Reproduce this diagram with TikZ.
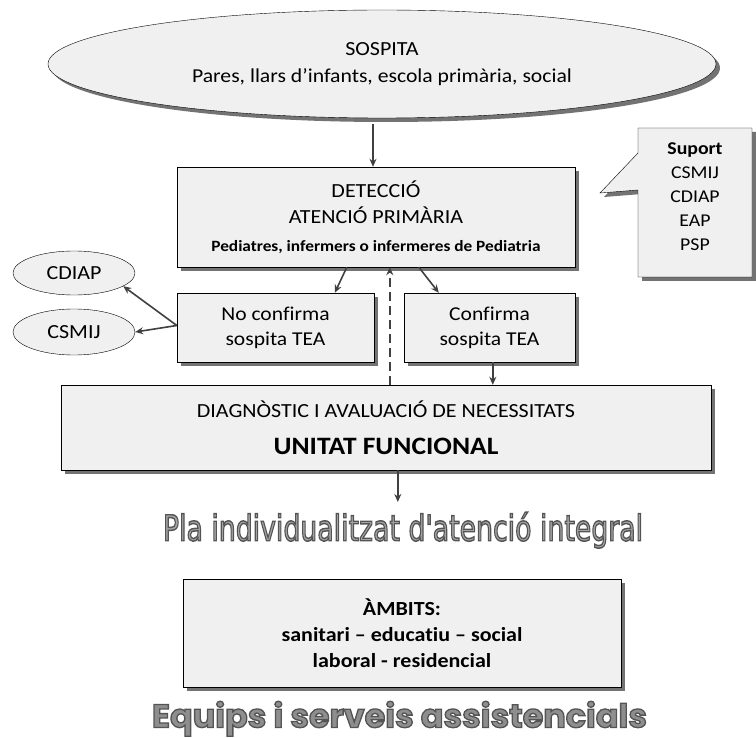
\documentclass[tikz,border=0pt]{standalone}
\usepackage{fontspec}
\usepackage{graphicx}
\usepackage{xcolor}
\setmainfont{Carlito}[FakeStretch=1.1,Ligatures=CommonOff]
\newfontfamily\plafont{DejaVu Sans}
\newfontfamily\equipsfont{Poppins}
\usetikzlibrary{shapes.geometric, shadows, arrows.meta, positioning}

\definecolor{boxgray}{HTML}{F0F0F0}
\definecolor{plagray}{HTML}{A4A4A4}
\definecolor{equipsgray}{HTML}{8E8E8E}

% word art text: gray fill with a darker outline
\newcommand{\arttext}[4]{\resizebox*{#1}{#2}{\color{#3}\special{pdf:literal direct 2 Tr 0.8 w 0.33 0.33 0.33 RG}#4\special{pdf:literal direct 0 Tr}}}

\begin{document}
\begin{tikzpicture}[
  x=1pt, y=-1pt,
  box/.style={rectangle,draw,fill=boxgray,align=center,inner sep=0pt,
    drop shadow={shadow xshift=4pt,shadow yshift=-4pt,fill=black!55,opacity=1}},
  oval/.style={ellipse,draw,fill=boxgray,align=center,inner sep=0pt},
  arrow/.style={draw=black!75,line width=1.6pt,-{Stealth[length=8pt,width=7pt]}},
  font=\fontsize{20}{26.5}\selectfont
]
\useasboundingbox (0,0) rectangle (756,738);

% Draw top oval and detection box
\node[oval,minimum width=668pt,minimum height=108pt,
  drop shadow={shadow xshift=4pt,shadow yshift=-4pt,fill=black!55,opacity=1}]
  at (382,64) (sospita) {SOSPITA\\\fontsize{19.7}{26.5}\selectfont Pares, llars d’infants, escola primària, social};
\node[box,minimum width=398pt,minimum height=100pt] at (376,217) (deteccio)
  {DETECCIÓ\\ATENCIÓ PRIMÀRIA\\[1pt]{\bfseries\fontsize{15.7}{20}\selectfont Pediatres, infermers o infermeres de Pediatria}};

% Draw support callout
\path[draw,fill=boxgray,drop shadow={shadow xshift=4pt,shadow yshift=-4pt,fill=black!55,opacity=1}]
  (638,128) -- (752,128) -- (752,277) -- (638,277) -- (638,190) -- (600,193) -- (638,153) -- cycle;
\node[align=center,font=\fontsize{18}{24}\selectfont] at (695,197) (suport)
  {\textbf{Suport}\\CSMIJ\\CDIAP\\EAP\\PSP};

% Draw outcome boxes
\node[oval,minimum width=122pt,minimum height=44pt] at (74,273) (cdiap) {CDIAP};
\node[oval,minimum width=122pt,minimum height=46pt] at (74,332) (csmij) {CSMIJ};
\node[box,minimum width=197pt,minimum height=69pt,font=\fontsize{19.6}{25}\selectfont]
  at (275.5,327.5) (noconf) {No confirma\\sospita TEA};
\node[box,minimum width=171pt,minimum height=69pt,font=\fontsize{19.6}{25}\selectfont]
  at (489.5,327.5) (conf) {Confirma\\sospita TEA};
\node[box,minimum width=650pt,minimum height=85pt] at (386,427.5) (diag)
  {DIAGNÒSTIC I AVALUACIÓ DE NECESSITATS\\[10pt]{\bfseries\fontsize{25}{30}\selectfont UNITAT FUNCIONAL}};

% Draw plan and fields
\node[inner sep=0pt,anchor=north] at (403,512) (pla)
  {\plafont\arttext{480pt}{36pt}{plagray}{Pla individualitzat d'atenció integral}};
\node[box,minimum width=438pt,minimum height=108pt,font=\bfseries\fontsize{20}{26}\selectfont]
  at (402,633) (ambits) {ÀMBITS:\\sanitari – educatiu – social\\laboral - residencial};
\node[inner sep=0pt,anchor=north] at (399.5,701) (equips)
  {\equipsfont\bfseries\arttext{495pt}{35pt}{equipsgray}{Equips i serveis assistencials}};

% Arrows between the boxes
\coordinate (downX) at ([xshift=-3pt]deteccio.north);
\draw[arrow] ([yshift=-6pt]downX |- sospita.south) -- (downX);
\draw[arrow] ([xshift=170pt]deteccio.south west) -- ([xshift=158pt]noconf.north west);
\draw[arrow] ([xshift=242pt]deteccio.south west) -- ([xshift=35pt]conf.north west);
\draw[arrow] ([yshift=2pt]noconf.west) -- (cdiap.-15);
\draw[arrow] ([yshift=2pt]noconf.west) -- (csmij.east);
\draw[arrow,dashed,dash pattern=on 9pt off 5pt] ([xshift=329pt]diag.north west) -- ([xshift=213pt]deteccio.south west);
\draw[arrow] ([xshift=89pt]conf.south west) -- ([xshift=432pt]diag.north west);
\coordinate (plaTop) at (pla.north);
\coordinate (diagX) at ([xshift=337pt]diag.south west);
\draw[arrow] (diagX) -- ([yshift=10pt]diagX |- plaTop);

\end{tikzpicture}
\end{document}
